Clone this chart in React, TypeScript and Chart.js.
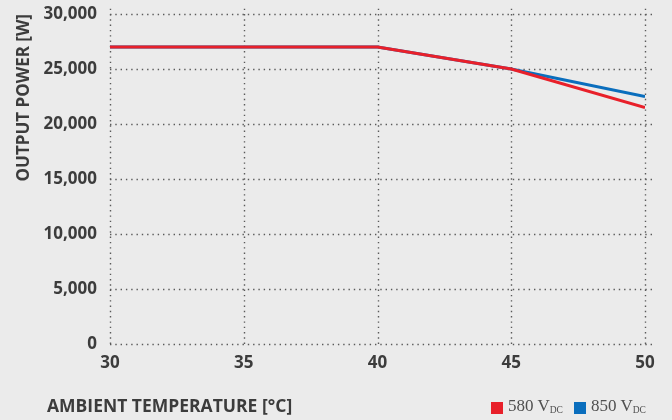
import React, { useEffect, useRef } from "react";
import { Chart, registerables } from "chart.js";

Chart.register(...registerables);

const temperatures = [30, 40, 45, 50];
const power580 = [27000, 27000, 25000, 21500];
const power850 = [27000, 27000, 25000, 22500];
const xTicks = [30, 35, 40, 45, 50];
const yTicks = [0, 5000, 10000, 15000, 20000, 25000, 30000];

const TEXT = "#3c3c3c";
const RED = "#e8202a";
const BLUE = "#0a6ebd";

const dottedGrid = {
  id: "dottedGrid",
  beforeDatasetsDraw(chart: any) {
    const { ctx, scales } = chart;
    const x = scales.x;
    const y = scales.y;
    ctx.save();
    ctx.strokeStyle = "#5a5a5a";
    ctx.lineWidth = 1.4;
    ctx.setLineDash([1.4, 3.9]);
    const x0 = x.getPixelForValue(xTicks[0]);
    const x1 = x.getPixelForValue(xTicks[xTicks.length - 1]);
    const y0 = y.getPixelForValue(yTicks[0]);
    const y1 = y.getPixelForValue(yTicks[yTicks.length - 1]);
    xTicks.forEach((v) => {
      const px = Math.round(x.getPixelForValue(v)) + 0.5;
      ctx.beginPath();
      ctx.moveTo(px, y0);
      ctx.lineTo(px, y1 - 7);
      ctx.stroke();
    });
    yTicks.forEach((v) => {
      const py = Math.round(y.getPixelForValue(v)) + 0.5;
      ctx.beginPath();
      ctx.moveTo(x0, py);
      ctx.lineTo(x1 + 7, py);
      ctx.stroke();
    });
    ctx.restore();
  },
};

export default function App() {
  const ref = useRef<HTMLCanvasElement | null>(null);

  useEffect(() => {
    if (!ref.current) return;
    const chart = new Chart(ref.current, {
      type: "line",
      data: {
        datasets: [
          {
            label: "580 VDC",
            data: temperatures.map((t, i) => ({ x: t, y: power580[i] })),
            borderColor: RED,
            backgroundColor: RED,
            borderWidth: 3,
            pointRadius: 0,
            tension: 0,
          },
          {
            label: "850 VDC",
            data: temperatures.map((t, i) => ({ x: t, y: power850[i] })),
            borderColor: BLUE,
            backgroundColor: BLUE,
            borderWidth: 3,
            pointRadius: 0,
            tension: 0,
          },
        ],
      },
      options: {
        animation: false,
        responsive: false,
        devicePixelRatio: 1,
        layout: { padding: { left: 14, top: 14, right: 27, bottom: 0 } },
        plugins: { legend: { display: false }, tooltip: { enabled: false } },
        scales: {
          x: {
            type: "linear",
            min: 30,
            max: 50,
            afterFit: (s: any) => {
              s.height = 76;
              s.paddingLeft = 0;
              s.paddingRight = 0;
            },
            afterBuildTicks: (s: any) => {
              s.ticks = xTicks.map((v) => ({ value: v }));
            },
            ticks: {
              color: TEXT,
              padding: 9,
              font: { family: "'Open Sans'", size: 17, weight: "bold" },
              maxRotation: 0,
            },
            grid: { display: false, drawTicks: false },
            border: { display: false },
          },
          y: {
            min: 0,
            max: 30000,
            afterFit: (s: any) => {
              s.width = 96;
              s.paddingTop = 0;
              s.paddingBottom = 0;
            },
            afterBuildTicks: (s: any) => {
              s.ticks = yTicks.map((v) => ({ value: v }));
            },
            ticks: {
              color: TEXT,
              padding: 13,
              font: { family: "'Open Sans'", size: 17, weight: "bold" },
              callback: (v: any) => Number(v).toLocaleString("en-US"),
            },
            title: {
              display: true,
              text: "OUTPUT POWER [W]",
              align: "end",
              color: TEXT,
              padding: 0,
              font: { family: "'Open Sans'", size: 17, weight: "bold" },
            },
            grid: { display: false, drawTicks: false },
            border: { display: false },
          },
        },
      },
      plugins: [dottedGrid],
    });
    return () => chart.destroy();
  }, []);

  const legendText: React.CSSProperties = {
    fontFamily: "'Liberation Serif'",
    fontSize: 17,
    color: "#505050",
    lineHeight: "18px",
    whiteSpace: "nowrap",
  };
  const sub: React.CSSProperties = { fontSize: 9.5, verticalAlign: "-2px" };

  return (
    <div
      style={{
        position: "fixed",
        left: 0,
        top: 0,
        width: 672,
        height: 420,
        background: "#ebebeb",
        overflow: "hidden",
      }}
    >
      <canvas ref={ref} width={672} height={420} style={{ display: "block" }} />
      <div
        style={{
          position: "absolute",
          left: 47,
          top: 394,
          fontFamily: "'Open Sans'",
          fontWeight: "bold",
          fontSize: 17.5,
          lineHeight: "22px",
          color: TEXT,
          whiteSpace: "nowrap",
        }}
      >
        AMBIENT TEMPERATURE [°C]
      </div>
      <div
        style={{
          position: "absolute",
          left: 491,
          top: 397,
          display: "flex",
          alignItems: "center",
        }}
      >
        <span style={{ width: 12, height: 12, background: RED, display: "inline-block", marginRight: 5 }} />
        <span style={legendText}>
          580 V<span style={sub}>DC</span>
        </span>
        <span
          style={{ width: 12, height: 12, background: BLUE, display: "inline-block", marginLeft: 11, marginRight: 5 }}
        />
        <span style={legendText}>
          850 V<span style={sub}>DC</span>
        </span>
      </div>
    </div>
  );
}
